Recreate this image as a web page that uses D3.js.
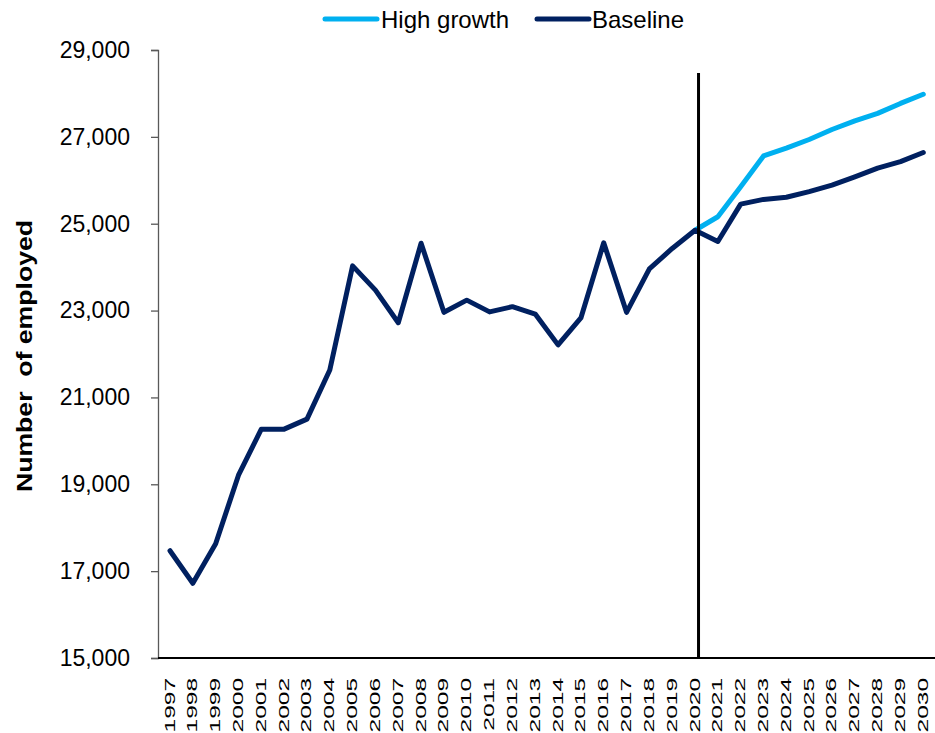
<!DOCTYPE html>
<html>
<head>
<meta charset="utf-8">
<script src="https://cdn.jsdelivr.net/npm/d3@7"></script>
<style>
  html, body { margin: 0; padding: 0; background: #fff; }
  svg { display: block; font-family: "Liberation Sans", Arial, sans-serif; }
</style>
</head>
<body>
<svg id="chart" width="935" height="733"></svg>
<script>
const years = [1997,1998,1999,2000,2001,2002,2003,2004,2005,2006,2007,2008,2009,2010,2011,2012,2013,2014,2015,2016,2017,2018,2019,2020,2021,2022,2023,2024,2025,2026,2027,2028,2029,2030];
const baseline = [17470,16720,17630,19210,20270,20270,20500,21630,24030,23470,22720,24550,22960,23240,22970,23090,22920,22210,22830,24560,22960,23960,24430,24850,24590,25450,25560,25610,25740,25890,26080,26280,26430,26640];
const highGrowth = [null,null,null,null,null,null,null,null,null,null,null,null,null,null,null,null,null,null,null,null,null,null,null,24850,25160,25850,26560,26740,26940,27170,27370,27540,27770,27980];
const yTicks = [15000,17000,19000,21000,23000,25000,27000,29000];
const seriesNames = ["High growth","Baseline"];
const seriesColors = ["#00B0F0","#002060"];
const dividerYear = 2020;
const yTitle = "Number  of employed";

const svg = d3.select("#chart");
const x = d3.scalePoint().domain(years).range([170, 923.3]);
const y = d3.scaleLinear().domain([15000, 29000]).range([658, 50]);

// Y axis
const yAxis = svg.append("g")
  .attr("transform", "translate(158,0)")
  .call(d3.axisLeft(y).tickValues(yTicks).tickSize(7).tickPadding(21).tickFormat(d3.format(",")));
yAxis.select(".domain").attr("stroke", "#595959").attr("stroke-width", 1.3);
yAxis.selectAll(".tick line").attr("stroke", "#595959").attr("stroke-width", 1.3);
yAxis.selectAll(".tick text").attr("font-size", 23).attr("fill", "#000")
  .attr("font-family", "'Liberation Sans', Arial, sans-serif");

// X axis
const xAxis = svg.append("g")
  .attr("transform", "translate(0,658)")
  .call(d3.axisBottom(x).tickSize(0).tickSizeOuter(0));
xAxis.select(".domain").remove();
svg.append("line")
  .attr("x1", 158).attr("x2", 935).attr("y1", y(15000)).attr("y2", y(15000))
  .attr("stroke", "#000").attr("stroke-width", 2);
xAxis.selectAll(".tick text")
  .attr("x", 0).attr("y", 0).attr("dy", null)
  .attr("text-anchor", "end")
  .attr("font-size", 15.5).attr("fill", "#000")
  .attr("font-family", "'Liberation Sans', Arial, sans-serif")
  .attr("transform", "translate(4,20) rotate(-90) scale(1.58,1)");

// Lines
const lineGen = d3.line()
  .defined(d => d.v != null)
  .x(d => x(d.year)).y(d => y(d.v));
const allSeries = [highGrowth, baseline];
allSeries.forEach((vals, i) => {
  svg.append("path")
    .datum(years.map((yr, j) => ({year: yr, v: vals[j]})))
    .attr("d", lineGen)
    .attr("fill", "none")
    .attr("stroke", seriesColors[i])
    .attr("stroke-width", 5)
    .attr("stroke-linejoin", "round")
    .attr("stroke-linecap", "round");
});

// Divider line
svg.append("line")
  .attr("x1", x(dividerYear) + 3.5).attr("x2", x(dividerYear) + 3.5)
  .attr("y1", 73).attr("y2", y(15000))
  .attr("stroke", "#000").attr("stroke-width", 3);

// Y title
svg.append("text")
  .attr("transform", "translate(32,356) rotate(-90) scale(1.21,1)")
  .attr("text-anchor", "middle")
  .attr("font-size", 22).attr("font-weight", "bold")
  .style("white-space", "pre")
  .attr("xml:space", "preserve")
  .text(yTitle);

// Legend
const legendItems = [{x: 323, tx: 381}, {x: 535, tx: 592}];
seriesNames.forEach((name, i) => {
  const g = svg.append("g");
  g.append("line")
    .attr("x1", legendItems[i].x + 2).attr("x2", legendItems[i].x + 54)
    .attr("y1", 19).attr("y2", 19)
    .attr("stroke", seriesColors[i]).attr("stroke-width", 5).attr("stroke-linecap", "round");
  g.append("text")
    .attr("x", legendItems[i].tx).attr("y", 27.5)
    .attr("font-size", 24).attr("fill", "#000")
    .text(name);
});
</script>
</body>
</html>
